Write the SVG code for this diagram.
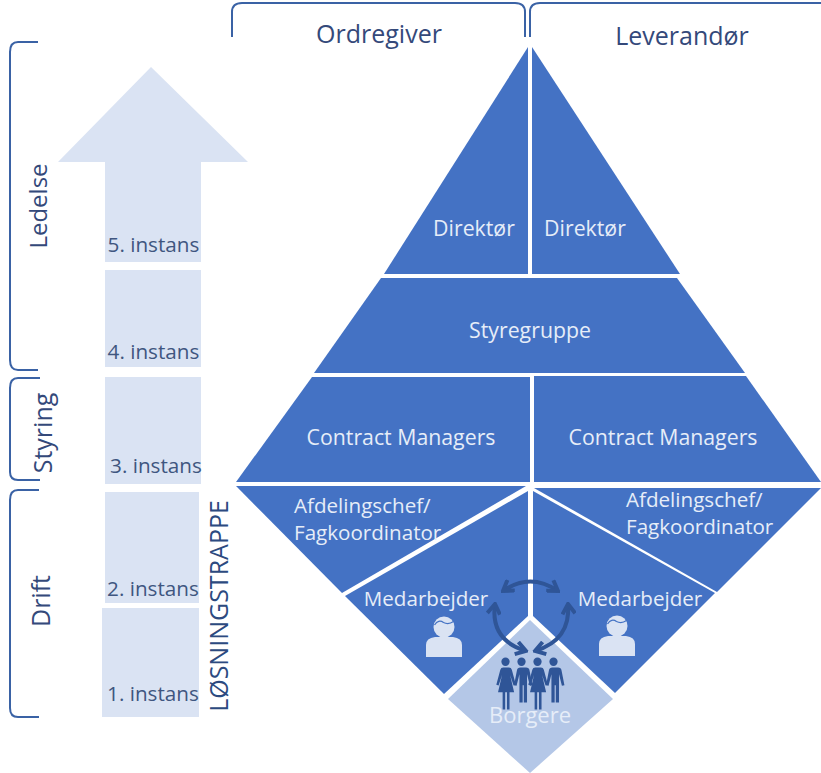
<svg xmlns="http://www.w3.org/2000/svg" width="821" height="773" viewBox="0 0 821 773">
<style>
text{font-family:"Open Sans","Noto Sans",sans-serif}
.b{fill:#4472c4}
.l{fill:#dae3f3}
.w{fill:#e6edf8;font-size:21.3px;text-anchor:middle}
.s{fill:#e6edf8;font-size:20.6px}
.d{fill:#3f5680;font-size:20.7px;text-anchor:middle}
.h{fill:#34497a;font-size:25px;text-anchor:middle}
.br{fill:none;stroke:#3a62a5;stroke-width:2}
.ar{fill:none;stroke:#2f5597;stroke-width:4;marker-start:url(#ah);marker-end:url(#ah)}
.p{fill:#2f5597}
</style>
<defs>
<marker id="ah" viewBox="0 0 10 10" refX="8.500" refY="5" markerWidth="3.800" markerHeight="3.800" orient="auto-start-reverse" markerUnits="strokeWidth"><path d="M2 0.800 L8.500 5 L2 9.200" fill="none" stroke="#2f5597" stroke-width="2.600"/></marker>
<g id="f"><circle cx="0" cy="-35" r="3.600"/><path d="M-3 -30 h6 q2 0 2.500 2 l3.500 13 -2 .6 -3 -9 3.500 15 h-4 v15 h-2.200 v-15 h-1.600 v15 h-2.200 v-15 h-4 l3.500 -15 -3 9 -2 -.6 3.500 -13 q.5 -2 2.500 -2z"/></g>
<g id="m"><circle cx="0" cy="-35" r="3.600"/><path d="M-4 -30 h8 q2.500 0 3 2.500 l2.500 13 -2.200 .4 -2.500 -10 v24.600 h-2.800 v-15 h-1 v15 h-2.800 v-24.600 l-2.500 10 -2.200 -.4 2.500 -13 q.5 -2.500 3 -2.500z"/></g>
<g id="u"><circle cx="0" cy="0" r="10.500"/><path d="M-18 30 v-12 q0 -7 9 -8 h18 q9 1 9 8 v12z"/><path d="M-9.500 -2 q4 -6 9 -2.500 q5 2.500 10 -1" fill="none" stroke="#4472c4" stroke-width="1.300"/></g>
</defs>

<g id="stair">
<g id="arrow-5"><path class="l" d="M151 67 L248 162 H201 V262 H105 V162 H58Z"/><text class="d" x="153.500" y="252">5. instans</text></g>
<g id="step-4"><rect class="l" x="105" y="270" width="96" height="97"/><text class="d" x="153.500" y="359">4. instans</text></g>
<g id="step-3"><rect class="l" x="105" y="377" width="96" height="107"/><text class="d" x="156" y="473">3. instans</text></g>
<g id="step-2"><rect class="l" x="105" y="492" width="94" height="111"/><text class="d" x="153" y="596">2. instans</text></g>
<g id="step-1"><rect class="l" x="102" y="608" width="97" height="109"/><text class="d" x="153" y="701">1. instans</text></g>
<g id="losningstrappe"><text transform="translate(228 606) rotate(-90)" fill="#2c4a80" font-size="25" text-anchor="middle">LØSNINGSTRAPPE</text></g>
</g>

<g id="brackets">
<path class="br" d="M38 42 H18 Q10 42 10 52 V360 Q10 370 18 370 H38"/>
<path class="br" d="M40 378 H18 Q10 378 10 388 V472 Q10 480 18 480 H40"/>
<path class="br" d="M39 490 H18 Q10 490 10 500 V708 Q10 717 18 717 H39"/>
<path class="br" d="M232 37 V12 Q232 3 242 3 H515 Q525 3 525 12 V37"/>
<path class="br" d="M530 37 V12 Q530 3 540 3 H821"/>
</g>
<g id="bracket-labels">
<text class="h" style="font-size:24px" transform="translate(47 206) rotate(-90)">Ledelse</text>
<text class="h" transform="translate(52 433) rotate(-90)">Styring</text>
<text class="h" transform="translate(50 601) rotate(-90)">Drift</text>
<text class="h" x="379" y="43">Ordregiver</text>
<text class="h" x="682" y="45">Leverandør</text>
</g>

<g id="dir-left"><path class="b" d="M528 47 V274 H384Z"/><text class="w" x="474" y="236">Direktør</text></g>
<g id="dir-right"><path class="b" d="M532 47 L680 274 H532Z"/><text class="w" x="585" y="236">Direktør</text></g>
<g id="styregruppe"><path class="b" d="M381 278 H677 L745 373 H314Z"/><text class="w" x="530" y="338">Styregruppe</text></g>
<g id="cm-left"><path class="b" d="M312 377 H530 V482 H236Z"/><text class="w" x="401" y="445">Contract Managers</text></g>
<g id="cm-right"><path class="b" d="M534 376 H746 L821 482 H534Z"/><text class="w" x="663" y="445">Contract Managers</text></g>
<g id="afd-left"><path class="b" d="M236 486 H526 L342 593Z"/><text class="s" x="294" y="513">Afdelingschef/</text><text class="s" x="294" y="540">Fagkoordinator</text></g>
<g id="afd-right"><path class="b" d="M534 488 H821 L717 592Z"/><text class="s" x="626" y="507">Afdelingschef/</text><text class="s" x="626" y="534">Fagkoordinator</text></g>
<g id="med-left"><path class="b" d="M345 596 L528 491 V616 L444 694Z"/><text class="w" style="font-size:20.600px" x="426" y="606">Medarbejder</text><use href="#u" x="444" y="627" class="l"/></g>
<g id="med-right"><path class="b" d="M533 491 L715 593 L615 693 L533 616Z"/><text class="w" style="font-size:20.600px" x="640" y="606">Medarbejder</text><use href="#u" x="617" y="626" class="l"/></g>
<g id="borgere"><path fill="#b4c7e7" d="M530 620 L613 699 L530 773 L448 699Z"/><text fill="#e6edf8" font-size="22" text-anchor="middle" x="530" y="723">Borgere</text>
<g class="p"><use href="#f" transform="translate(505.500 702) scale(1.150)"/><use href="#m" transform="translate(521.500 702) scale(1.150)"/><use href="#f" transform="translate(537.500 702) scale(1.150)"/><use href="#m" transform="translate(553.500 702) scale(1.150)"/></g></g>

<g id="connectors">
<path class="ar" d="M503 591 Q530 572 558 591"/>
<path class="ar" d="M495 604 Q490 640 526 651"/>
<path class="ar" d="M568 604 Q571 640 535 651"/>
</g>
</svg>
